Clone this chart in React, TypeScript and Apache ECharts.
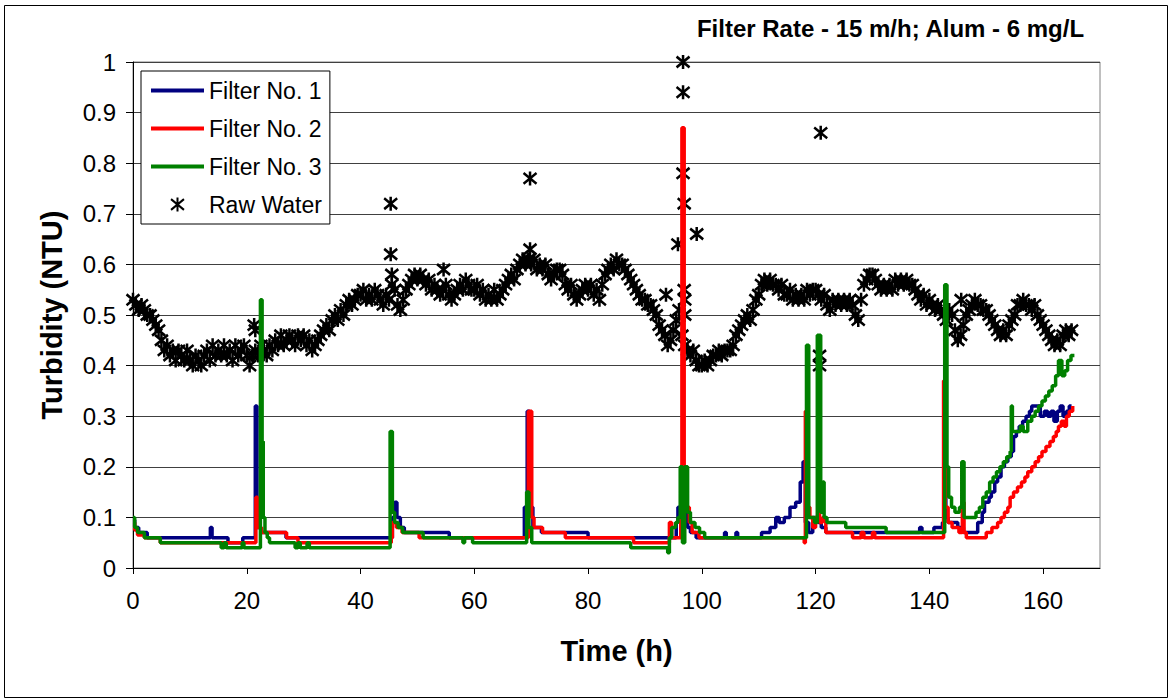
import React, { useEffect, useRef } from "react";
import * as echarts from "echarts";

// Raw water turbidity, read every 0.5 h from t = 0 h
const RAW_START = 0;
const RAW_STEP = 0.5;
const rawWater = [
  0.53, 0.52, 0.51, 0.52, 0.51, 0.50, 0.50, 0.49, 0.48, 0.47,
  0.45, 0.43, 0.44, 0.42, 0.43, 0.41, 0.43, 0.42, 0.41, 0.43,
  0.41, 0.40, 0.42, 0.41, 0.40, 0.42, 0.43, 0.41, 0.44, 0.42,
  0.43, 0.42, 0.44, 0.42, 0.43, 0.41, 0.44, 0.42, 0.43, 0.44,
  0.42, 0.40, 0.42, 0.43, 0.42, 0.44, 0.43, 0.42, 0.44, 0.43,
  0.45, 0.44, 0.46, 0.44, 0.45, 0.46, 0.45, 0.44, 0.46, 0.45,
  0.46, 0.44, 0.45, 0.43, 0.44, 0.45, 0.46, 0.47, 0.48, 0.47,
  0.49, 0.50, 0.49, 0.51, 0.50, 0.52, 0.53, 0.52, 0.53, 0.54,
  0.54, 0.55, 0.53, 0.54, 0.53, 0.55, 0.54, 0.53, 0.52, 0.54,
  0.53, 0.56, 0.55, 0.52, 0.51, 0.53, 0.55, 0.56, 0.57, 0.58,
  0.57, 0.58, 0.57, 0.56, 0.57, 0.55, 0.56, 0.55, 0.54, 0.55,
  0.56, 0.54, 0.53, 0.54, 0.55, 0.56, 0.55, 0.57, 0.56, 0.55,
  0.55, 0.56, 0.54, 0.55, 0.53, 0.54, 0.53, 0.55, 0.53, 0.54,
  0.55, 0.56, 0.57, 0.58, 0.57, 0.59, 0.60, 0.61, 0.60, 0.61,
  0.60, 0.61, 0.59, 0.60, 0.59, 0.60, 0.58, 0.57, 0.58, 0.59,
  0.59, 0.58, 0.56, 0.55, 0.56, 0.54, 0.53, 0.54, 0.55, 0.56,
  0.55, 0.56, 0.54, 0.55, 0.53, 0.56, 0.58, 0.59, 0.60, 0.59,
  0.61, 0.60, 0.60, 0.59, 0.58, 0.57, 0.56, 0.55, 0.54, 0.53,
  0.53, 0.52, 0.52, 0.51, 0.50, 0.48, 0.47, 0.46, 0.44, 0.45,
  0.47, 0.49, 0.51, 0.46, 0.44, 0.43, 0.42, 0.43, 0.41, 0.40,
  0.40, 0.41, 0.40, 0.41, 0.42, 0.42, 0.43, 0.42, 0.43, 0.43,
  0.43, 0.44, 0.46, 0.47, 0.48, 0.49, 0.50, 0.49, 0.51, 0.53,
  0.54, 0.56, 0.57, 0.56, 0.57, 0.56, 0.56, 0.55, 0.56, 0.54,
  0.54, 0.55, 0.53, 0.54, 0.53, 0.54, 0.53, 0.55, 0.54, 0.55,
  0.55, 0.54, 0.53, 0.54, 0.52, 0.51, 0.53, 0.52, 0.53, 0.52,
  0.53, 0.52, 0.53, 0.52, 0.50, 0.49, 0.53, 0.56, 0.57, 0.58,
  0.58, 0.57, 0.56, 0.55, 0.56, 0.55, 0.56, 0.55, 0.57, 0.56,
  0.57, 0.56, 0.57, 0.56, 0.56, 0.55, 0.54, 0.53, 0.54, 0.52,
  0.53, 0.52, 0.51, 0.52, 0.51, 0.50, 0.49, 0.51, 0.50, 0.47,
  0.45, 0.46, 0.48, 0.50, 0.51, 0.52, 0.53, 0.52, 0.52, 0.51,
  0.51, 0.50, 0.49, 0.48, 0.47, 0.46, 0.47, 0.46, 0.48, 0.49,
  0.50, 0.52, 0.52, 0.53, 0.52, 0.52, 0.51, 0.52, 0.50, 0.49,
  0.48, 0.47, 0.46, 0.45, 0.44, 0.45, 0.44, 0.46, 0.47, 0.46,
  0.47,
];

// Isolated raw water readings (time h, NTU)
const rawOutliers = [
  [21.3, 0.48], [21.5, 0.47], [45.3, 0.72], [45.3, 0.62], [45.5, 0.58],
  [54.6, 0.59], [69.8, 0.77], [69.8, 0.63], [93.7, 0.54], [95.8, 0.64],
  [96.7, 1.0], [96.7, 0.94], [96.7, 0.78], [96.9, 0.72], [96.9, 0.55],
  [97.0, 0.53], [97.0, 0.50], [99.1, 0.66], [120.9, 0.86], [120.7, 0.42],
  [120.7, 0.40], [145.6, 0.53],
];

// Filter effluent turbidity (time h, NTU) at each change of reading
const filter1 = [
  [0, 0.095], [0.3, 0.08], [1, 0.07], [2.5, 0.06], [13.6, 0.08], [13.9, 0.06],
  [16.7, 0.05], [19.3, 0.06], [21.5, 0.32], [21.8, 0.08], [22.5, 0.07], [26.9, 0.06],
  [45.6, 0.10], [46.0, 0.13], [46.4, 0.10], [47.0, 0.08], [47.7, 0.07], [55.6, 0.06],
  [68.8, 0.12], [69.3, 0.31], [69.7, 0.12], [70.3, 0.08], [71.8, 0.07], [80, 0.06],
  [95.5, 0.09], [95.8, 0.12], [96.3, 0.10], [96.6, 0.15], [97, 0.12], [97.5, 0.08],
  [98, 0.07], [99, 0.06], [104, 0.07], [104.3, 0.06], [106, 0.07], [106.3, 0.06],
  [110.5, 0.07], [112, 0.08], [113, 0.10], [113.6, 0.09], [114.5, 0.10], [115.5, 0.12],
  [116.5, 0.13], [117.3, 0.17], [117.8, 0.21], [118.2, 0.09], [118.8, 0.07], [119.5, 0.10],
  [120.5, 0.09], [121, 0.08], [121.8, 0.07], [138.3, 0.08], [138.7, 0.07], [140.8, 0.08],
  [142.3, 0.09], [142.6, 0.20], [142.9, 0.10], [143.3, 0.09], [145, 0.08], [146, 0.07],
  [148.5, 0.09], [149.3, 0.11], [149.7, 0.13], [150.5, 0.14], [150.9, 0.15], [151.5, 0.17],
  [152, 0.18], [152.6, 0.20], [153.2, 0.21], [153.8, 0.22], [154.4, 0.23], [154.8, 0.26],
  [155.3, 0.27], [155.8, 0.28], [156.4, 0.29], [157, 0.30], [157.6, 0.31], [158, 0.32],
  [159.5, 0.30], [160.2, 0.31], [160.8, 0.30], [161.4, 0.31], [161.9, 0.29], [162.5, 0.31],
  [163, 0.32], [163.5, 0.30], [164.1, 0.31], [164.6, 0.32], [165, 0.32],
];

const filter2 = [
  [0, 0.09], [0.3, 0.075], [0.8, 0.065], [2, 0.06], [4.8, 0.05], [21.6, 0.14],
  [21.9, 0.08], [22.6, 0.07], [27, 0.06], [29, 0.05], [45.4, 0.06], [45.6, 0.09],
  [46.3, 0.08], [47.3, 0.07], [50.3, 0.06], [69.5, 0.31], [70.1, 0.10], [70.5, 0.08],
  [72, 0.07], [76, 0.06], [88, 0.05], [94.3, 0.09], [94.7, 0.06], [96.3, 0.10],
  [96.5, 0.87], [96.9, 0.20], [97.3, 0.12], [97.8, 0.09], [98.3, 0.07], [99.5, 0.06],
  [118, 0.05], [118.2, 0.31], [118.5, 0.12], [119, 0.10], [119.5, 0.08], [120, 0.10],
  [120.4, 0.32], [120.7, 0.09], [121.2, 0.10], [121.8, 0.07], [126.5, 0.06], [128, 0.07],
  [128.5, 0.06], [130, 0.07], [130.4, 0.06], [142.5, 0.37], [142.8, 0.12], [143.3, 0.09],
  [144, 0.08], [145.2, 0.07], [145.8, 0.13], [146.1, 0.07], [146.5, 0.06], [150, 0.07],
  [151, 0.08], [152, 0.09], [152.6, 0.10], [153.2, 0.11], [153.8, 0.12], [154.2, 0.14],
  [154.8, 0.15], [155.5, 0.16], [156.2, 0.17], [156.8, 0.18], [157.3, 0.19], [158, 0.20],
  [158.6, 0.21], [159.2, 0.22], [159.8, 0.23], [160.5, 0.24], [161.2, 0.25], [161.8, 0.26],
  [162.3, 0.27], [162.7, 0.28], [163.2, 0.29], [163.7, 0.28], [164.1, 0.30], [164.6, 0.31],
  [165.2, 0.32],
];

const filter3 = [
  [0, 0.10], [0.3, 0.08], [0.8, 0.07], [2, 0.06], [4.8, 0.05], [15.5, 0.04],
  [16, 0.05], [16.4, 0.04], [19.2, 0.05], [19.5, 0.04], [22.4, 0.53], [22.7, 0.25],
  [22.9, 0.10], [23.2, 0.07], [23.6, 0.06], [24, 0.05], [28.5, 0.04], [29, 0.05],
  [29.4, 0.04], [30.6, 0.05], [31, 0.04], [45.2, 0.27], [45.6, 0.11], [46, 0.09],
  [46.6, 0.08], [47.4, 0.07], [51, 0.06], [58, 0.05], [58.3, 0.06], [59.7, 0.05],
  [69.2, 0.15], [69.6, 0.08], [70.1, 0.05], [87.5, 0.04], [94, 0.03], [94.3, 0.06],
  [94.7, 0.08], [95.4, 0.09], [95.8, 0.10], [96.2, 0.20], [96.6, 0.05], [97, 0.20],
  [97.5, 0.11], [98, 0.09], [98.8, 0.08], [99.6, 0.07], [100.5, 0.06], [118.4, 0.44],
  [118.8, 0.10], [119.8, 0.09], [120.3, 0.46], [120.9, 0.11], [121.3, 0.17], [121.5, 0.10],
  [122, 0.09], [125.3, 0.08], [132.4, 0.07], [142.7, 0.56], [143.1, 0.20], [143.4, 0.14],
  [143.9, 0.12], [144.5, 0.11], [145.3, 0.12], [145.7, 0.21], [146.1, 0.10], [148.2, 0.11],
  [148.8, 0.12], [149.4, 0.14], [150, 0.15], [150.6, 0.17], [151.2, 0.18], [151.8, 0.19],
  [152.4, 0.20], [153, 0.21], [153.6, 0.22], [154.2, 0.23], [154.4, 0.32], [154.6, 0.27],
  [156, 0.28], [156.5, 0.27], [157.3, 0.29], [158, 0.30], [158.6, 0.31], [159.2, 0.32],
  [159.8, 0.33], [160.4, 0.34], [161, 0.35], [161.6, 0.36], [162.2, 0.38], [162.7, 0.41],
  [163.3, 0.38], [163.8, 0.39], [164.3, 0.41], [164.9, 0.42], [165.5, 0.42],
];

const xTicks = [0, 20, 40, 60, 80, 100, 120, 140, 160];
const lineNames = ["Filter No. 1", "Filter No. 2", "Filter No. 3"];
const rawName = "Raw Water";
const TITLE = "Filter Rate - 15 m/h; Alum - 6 mg/L";

const FONT = "'Liberation Sans', Arial, sans-serif";
const STAR = "path://M6,0L6,13M0,1.5L12,11.5M0,11.5L12,1.5";

export default function App() {
  const ref = useRef<HTMLDivElement>(null);
  useEffect(() => {
    if (!ref.current) return;
    const chart = echarts.init(ref.current, undefined, { renderer: "svg" });
    const rawData = rawWater
      .map((v, i) => [RAW_START + i * RAW_STEP, v])
      .concat(rawOutliers);
    const lineSeries = (name: string, data: number[][], color: string) => ({
      name,
      type: "line",
      data,
      step: "end",
      symbol: "none",
      showSymbol: false,
      lineStyle: { color, width: 3.5 },
      itemStyle: { color },
      z: 3,
    });
    chart.setOption({
      animation: false,
      backgroundColor: "#fff",
      textStyle: { fontFamily: FONT },
      title: {
        text: TITLE,
        right: 82,
        top: 11,
        textStyle: { fontFamily: FONT, fontSize: 24, fontWeight: "bold", color: "#000" },
      },
      grid: {
        left: 133,
        top: 62,
        right: 72,
        bottom: 132,
        show: true,
        borderColor: "#808080",
        borderWidth: 1,
      },
      legend: {
        data: [
          ...lineNames.map((name) => ({ name, itemStyle: { opacity: 0 } })),
          { name: rawName },
        ],
        orient: "vertical",
        left: 141,
        top: 71,
        backgroundColor: "#fff",
        borderColor: "#000",
        borderWidth: 1,
        borderRadius: 0,
        padding: [8, 8, 8, 8],
        itemWidth: 53,
        itemHeight: 14,
        itemGap: 15,
        lineStyle: { width: 4 },
        textStyle: { fontFamily: FONT, fontSize: 23, color: "#000" },
      },
      xAxis: {
        type: "value",
        min: 0,
        max: 170,
        interval: 20,
        name: "Time (h)",
        nameLocation: "middle",
        nameGap: 68,
        nameTextStyle: { fontFamily: FONT, fontSize: 29, fontWeight: "bold", color: "#000" },
        axisLine: { show: true, lineStyle: { color: "#000", width: 1 } },
        axisTick: { show: true, length: 6, lineStyle: { color: "#000" }, customValues: xTicks },
        axisLabel: { fontFamily: FONT, fontSize: 24, color: "#000", margin: 20, customValues: xTicks },
        splitLine: { show: false },
      },
      yAxis: {
        type: "value",
        min: 0,
        max: 1,
        interval: 0.1,
        name: "Turbidity (NTU)",
        nameLocation: "middle",
        nameGap: 67,
        nameTextStyle: { fontFamily: FONT, fontSize: 29, fontWeight: "bold", color: "#000" },
        axisLine: { show: true, lineStyle: { color: "#000", width: 1 } },
        axisTick: { show: true, length: 7, lineStyle: { color: "#000" } },
        axisLabel: { fontFamily: FONT, fontSize: 24, color: "#000", margin: 17 },
        splitLine: { show: true, lineStyle: { color: "#404040", width: 1 } },
      },
      graphic: [
        {
          type: "rect",
          shape: { x: 4.5, y: 5.5, width: 1163, height: 692 },
          style: { fill: "none", stroke: "#000", lineWidth: 1 },
          silent: true,
          z: -1,
        },
      ],
      series: [
        {
          name: rawName,
          type: "scatter",
          data: rawData,
          symbol: STAR,
          symbolSize: [13, 14],
          symbolKeepAspect: false,
          itemStyle: { color: "#000", borderColor: "#000", borderWidth: 2.6, opacity: 1 },
          z: 2,
        },
        lineSeries(lineNames[0], filter1, "#000080"),
        lineSeries(lineNames[1], filter2, "#FF0000"),
        lineSeries(lineNames[2], filter3, "#008000"),
      ],
    });
    return () => chart.dispose();
  }, []);
  return (
    <div
      ref={ref}
      style={{ position: "fixed", left: 0, top: 0, width: 1172, height: 700 }}
    />
  );
}
